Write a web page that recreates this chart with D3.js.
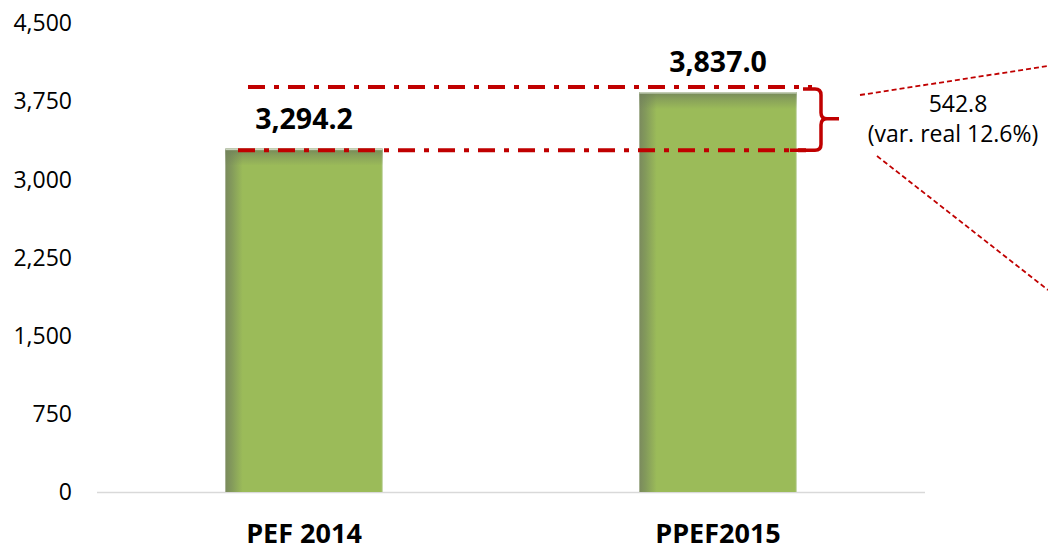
<!DOCTYPE html>
<html><head><meta charset="utf-8">
<script src="https://cdn.jsdelivr.net/npm/d3@7"></script>
<style>body{margin:0;background:#fff}svg{display:block;font-family:"Open Sans",sans-serif}</style>
</head><body>
<svg id="c" width="1048" height="555"></svg>
<script>
const categories = ["PEF 2014", "PPEF2015"];
const values = [3294.2, 3837.0];
const valueLabels = ["3,294.2", "3,837.0"];
const tickValues = [0, 750, 1500, 2250, 3000, 3750, 4500];
const diffLabel = ["542.8", "(var. real 12.6%)"];

const svg = d3.select("#c");
const y = d3.scaleLinear().domain([0, 4500]).range([492, 23]);
const x = d3.scaleBand().domain(categories).range([97, 925]).padding(0);
const bw = x.bandwidth() * 0.38;
const red = "#c00000";

const defs = svg.append("defs");
const gh = defs.append("linearGradient").attr("id", "gh").attr("x1", 0).attr("x2", 1).attr("y1", 0).attr("y2", 0);
gh.append("stop").attr("offset", 0).attr("stop-color", "#7a8a5d");
gh.append("stop").attr("offset", 0.04).attr("stop-color", "#839a5b");
gh.append("stop").attr("offset", 0.11).attr("stop-color", "#9bbb59");
gh.append("stop").attr("offset", 0.99).attr("stop-color", "#9bbb59");
gh.append("stop").attr("offset", 1).attr("stop-color", "#b0c98a");
const gv = defs.append("linearGradient").attr("id", "gv").attr("x1", 0).attr("x2", 0).attr("y1", 0).attr("y2", 1);
gv.append("stop").attr("offset", 0).attr("stop-color", "#6f7f5a").attr("stop-opacity", 0.85);
gv.append("stop").attr("offset", 0.4).attr("stop-color", "#6f7f5a").attr("stop-opacity", 0.45);
gv.append("stop").attr("offset", 1).attr("stop-color", "#6f7f5a").attr("stop-opacity", 0);

// y tick labels
svg.append("g").selectAll("text").data(tickValues).join("text")
  .attr("x", 72).attr("y", d => y(d)).attr("dy", "0.36em")
  .attr("text-anchor", "end").attr("font-size", 23).attr("fill", "#000")
  .text(d => d3.format(",")(d));

// baseline
svg.append("line").attr("x1", 97).attr("x2", 925).attr("y1", y(0) + 0.5).attr("y2", y(0) + 0.5)
  .attr("stroke", "#d9d9d9").attr("stroke-width", 1.5);

// bars
const bars = svg.append("g");
categories.forEach((c, i) => {
  const cx = x(c) + x.bandwidth() / 2;
  bars.append("rect").attr("x", cx - bw / 2).attr("y", y(values[i])).attr("width", bw)
    .attr("height", y(0) - y(values[i])).attr("fill", "url(#gh)");
  bars.append("rect").attr("x", cx - bw / 2).attr("y", y(values[i])).attr("width", bw)
    .attr("height", 17).attr("fill", "url(#gv)");
  bars.append("rect").attr("x", cx - bw / 2).attr("y", y(values[i])).attr("width", bw)
    .attr("height", 1.5).attr("fill", "#c9d3bd");
  svg.append("text").attr("x", cx).attr("y", y(values[i]) - 20)
    .attr("text-anchor", "middle").attr("font-size", 28.5).attr("font-weight", 700).attr("fill", "#000")
    .text(valueLabels[i]);
  svg.append("text").attr("x", cx).attr("y", 543)
    .attr("text-anchor", "middle").attr("font-size", 27).attr("font-weight", 700).attr("fill", "#000")
    .text(c);
});

// dash-dot reference lines
const yTop = y(values[1]) - 5, yBot = y(values[0]) + 1.5;
svg.append("line").attr("x1", 248).attr("x2", 812).attr("y1", yTop).attr("y2", yTop)
  .attr("stroke", red).attr("stroke-width", 4).attr("stroke-dasharray", "17,9,5,9");
svg.append("line").attr("x1", 238).attr("x2", 806).attr("y1", yBot).attr("y2", yBot)
  .attr("stroke", red).attr("stroke-width", 4).attr("stroke-dasharray", "17,9,5,9");

// brace
const bx = 821, bm = (yTop + yBot) / 2;
svg.append("path")
  .attr("d", `M803,${yTop + 2} H${bx - 6} Q${bx},${yTop + 2} ${bx},${yTop + 8} V${bm - 6} Q${bx},${bm} ${bx + 6},${bm} H839 M${bx + 6},${bm} Q${bx},${bm} ${bx},${bm + 6} V${yBot - 6} Q${bx},${yBot} ${bx - 6},${yBot} H790`)
  .attr("fill", "none").attr("stroke", red).attr("stroke-width", 3.5);

// callout lines
svg.append("line").attr("x1", 860).attr("y1", 95).attr("x2", 1048).attr("y2", 66)
  .attr("stroke", red).attr("stroke-width", 1.8).attr("stroke-dasharray", "5,3");
svg.append("line").attr("x1", 877).attr("y1", 156).attr("x2", 1048).attr("y2", 290)
  .attr("stroke", red).attr("stroke-width", 1.8).attr("stroke-dasharray", "5,3");

// annotation text
svg.append("text").attr("x", 958).attr("y", 112).attr("text-anchor", "middle")
  .attr("font-size", 23).attr("fill", "#000").text(diffLabel[0]);
svg.append("text").attr("x", 953).attr("y", 142).attr("text-anchor", "middle")
  .attr("font-size", 23).attr("fill", "#000").text(diffLabel[1]);
</script>
</body></html>
